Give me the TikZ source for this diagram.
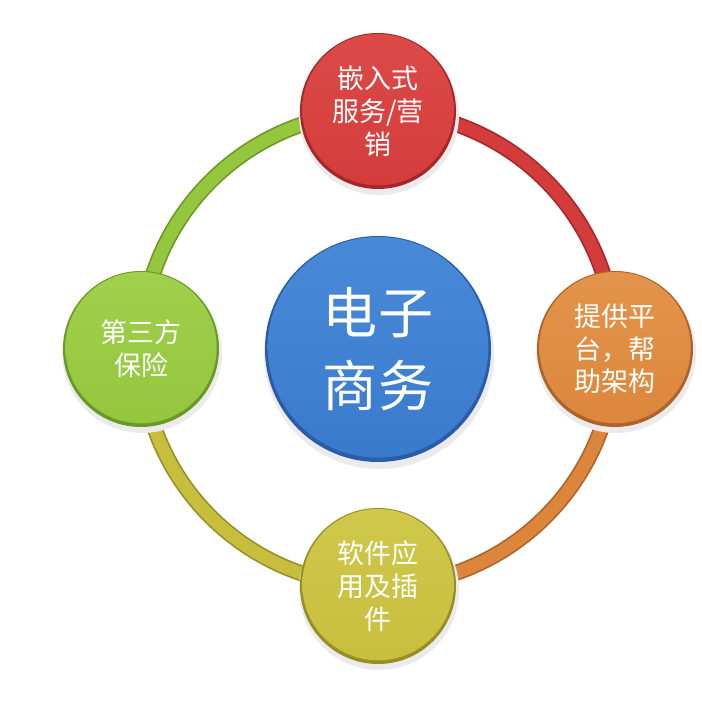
\documentclass[tikz,border=0pt]{standalone}
\usepackage{fontspec}
\newfontfamily\cjk{Noto Sans CJK SC}
\definecolor{redm}{RGB}{212,60,60}
\definecolor{redl}{RGB}{220,74,72}
\definecolor{redd}{RGB}{165,40,40}
\definecolor{orgm}{RGB}{220,134,60}
\definecolor{orgl}{RGB}{228,148,76}
\definecolor{orgd}{RGB}{172,100,42}
\definecolor{yelm}{RGB}{200,190,62}
\definecolor{yell}{RGB}{208,200,76}
\definecolor{yeld}{RGB}{152,142,38}
\definecolor{grnm}{RGB}{148,198,62}
\definecolor{grnl}{RGB}{160,208,76}
\definecolor{grnd}{RGB}{108,152,38}
\definecolor{blum}{RGB}{58,122,204}
\definecolor{blul}{RGB}{72,138,216}
\definecolor{blud}{RGB}{42,92,170}
\tikzset{
  ringdark/.style={line width=0.48cm, draw=#1},
  ringmain/.style={line width=0.38cm, draw=#1},
  bub/.style n args={3}{circle, minimum size=4.68cm, inner sep=0pt, fill=#3,
    text=white, align=center, font=\cjk\fontsize{23}{28}\selectfont,
    path picture={\shade[top color=#1, bottom color=#2]
      ([yshift=0.04cm]path picture bounding box.center) circle[radius=2.27cm];}},
  hub/.style n args={3}{circle, minimum size=6.78cm, inner sep=0pt, fill=#3,
    text=white, align=center, font=\cjk\fontsize{47}{62}\selectfont,
    path picture={\shade[top color=#1, bottom color=#2]
      ([yshift=0.05cm]path picture bounding box.center) circle[radius=3.31cm];}},
  shadowc/.style={fill=black!8},
}
\begin{document}
\begin{tikzpicture}[x=0.03cm,y=0.03cm]
\useasboundingbox (0,0) rectangle (702,702);
\fill[white] (0,0) rectangle (702,702);
\coordinate (ptop) at (378,591);
\coordinate (pright) at (615,353);
\coordinate (pbottom) at (378,116);
\coordinate (pleft) at (141,353);
\coordinate (pcenter) at (378,353);
% ring arcs
\draw[ringdark=redd] (ptop) arc[start angle=90, end angle=0, radius=7.11cm];
\draw[ringmain=redm] (ptop) arc[start angle=90, end angle=0, radius=7.11cm];
\draw[ringdark=orgd] (pright) arc[start angle=0, end angle=-90, radius=7.11cm];
\draw[ringmain=orgm] (pright) arc[start angle=0, end angle=-90, radius=7.11cm];
\draw[ringdark=yeld] (pbottom) arc[start angle=-90, end angle=-180, radius=7.11cm];
\draw[ringmain=yelm] (pbottom) arc[start angle=-90, end angle=-180, radius=7.11cm];
\draw[ringdark=grnd] (pleft) arc[start angle=180, end angle=90, radius=7.11cm];
\draw[ringmain=grnm] (pleft) arc[start angle=180, end angle=90, radius=7.11cm];
% shadows
\foreach \p in {ptop,pright,pbottom,pleft}{
  \fill[shadowc] ([shift={(1,-4)}]\p) circle[radius=2.40cm];
}
\fill[shadowc] ([shift={(1,-5)}]pcenter) circle[radius=3.45cm];
% nodes
\node[bub={redl}{redm}{redd}] (top) at (ptop) {嵌入式\\服务/营\\销};
\node[bub={orgl}{orgm}{orgd}] (right) at (pright) {提供平\\台，帮\\助架构};
\node[bub={yell}{yelm}{yeld}] (bottom) at (pbottom) {软件应\\用及插\\件};
\node[bub={grnl}{grnm}{grnd}] (left) at (pleft) {第三方\\保险};
\node[hub={blul}{blum}{blud}] (center) at (pcenter) {电子\\商务};
\end{tikzpicture}
\end{document}
